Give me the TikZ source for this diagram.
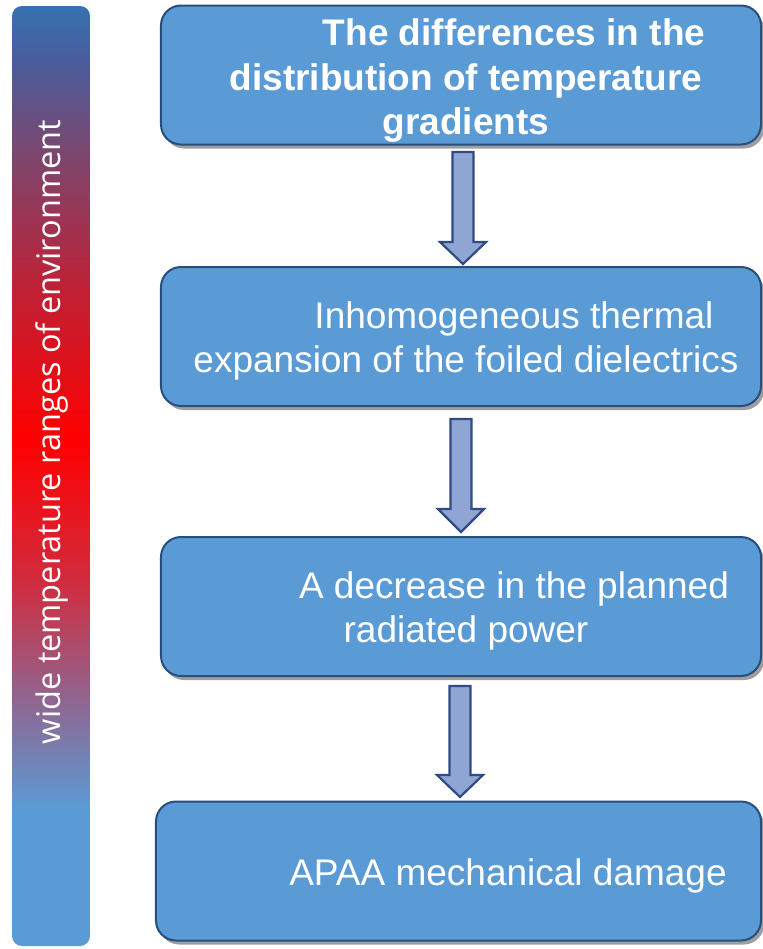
\documentclass[tikz,border=0pt]{standalone}
\usepackage{fontspec}
\setmainfont{Liberation Sans}
\newfontfamily\barfont{Open Sans}
\usetikzlibrary{calc,shadows}
\definecolor{boxfill}{HTML}{5B9BD5}
\definecolor{boxline}{HTML}{264F7E}
\definecolor{arrfill}{HTML}{8FA5D4}
\definecolor{arrline}{HTML}{2F4A85}
\definecolor{shadowgray}{HTML}{9E9E9E}
\definecolor{gA}{HTML}{3572B2}
\definecolor{gB}{HTML}{4A5C9C}
\definecolor{gC}{HTML}{7A4870}
\definecolor{gD}{HTML}{C02035}
\definecolor{gE}{HTML}{FF0000}
\definecolor{gF}{HTML}{D12B3E}
\definecolor{gG}{HTML}{8F6690}
\definecolor{gH}{HTML}{5B9BD5}
\begin{document}
\begin{tikzpicture}[x=1bp,y=-1bp,
  flowbox/.style={draw=boxline, line width=2bp, fill=boxfill, rounded corners=20bp,
    minimum height=139bp, inner sep=0pt,
    drop shadow={shadow xshift=3bp, shadow yshift=-4bp, fill=shadowgray, opacity=1}},
  boxtext/.style={text=white, align=center, inner sep=0pt},
  regfont/.style={font=\fontsize{37bp}{44.5bp}\selectfont},
  boldfont/.style={font=\fontsize{37bp}{44.5bp}\selectfont\bfseries},
  blockarrow/.style={draw=arrline, line width=2.2bp, fill=arrfill, line join=miter}]
\useasboundingbox (0,0) rectangle (763,949);

% gradient bar
\begin{scope}
  \clip[rounded corners=10bp] (12,6) rectangle (90,946);
  \shade[top color=gA, bottom color=gB] (12,5) rectangle (90,61);
  \shade[top color=gB, bottom color=gC] (12,60) rectangle (90,151);
  \shade[top color=gC, bottom color=gD] (12,150) rectangle (90,291);
  \shade[top color=gD, bottom color=gE] (12,290) rectangle (90,441);
  \shade[top color=gE, bottom color=gF] (12,440) rectangle (90,581);
  \shade[top color=gF, bottom color=gG] (12,580) rectangle (90,701);
  \shade[top color=gG, bottom color=gH] (12,700) rectangle (90,809);
  \fill[gH] (12,808) rectangle (90,947);
\end{scope}
\node[rotate=90, text=white, inner sep=0pt, font=\barfont\fontsize{32.5bp}{39bp}\selectfont]
  (bartext) at (52,432) {wide temperature ranges of environment};

% boxes
\node[flowbox, minimum width=600bp] (b1) at (461,75) {};
\node[flowbox, minimum width=600bp] (b2) at (461,336.5) {};
\node[flowbox, minimum width=600bp] (b3) at (461,606.5) {};
\node[flowbox, minimum width=605bp] (b4) at (458.5,871) {};

\node[boxtext, boldfont] (t1) at (466,81) {\hspace*{96bp}The differences in the\\distribution of temperature\\gradients};
\node[boxtext, regfont] (t2) at (466,341) {\hspace*{96bp}Inhomogeneous thermal\\expansion of the foiled dielectrics};
\node[boxtext, regfont] (t3) at (466,611) {\hspace*{96bp}A decrease in the planned\\radiated power};
\node[boxtext, regfont] (t4) at (508,876) {APAA mechanical damage};

% block arrows
\draw[blockarrow] let \p1=(b1.south), \p2=(b2.north) in
  (\x1-8.5bp,\y1-6.5bp) -- (\x1+12.5bp,\y1-6.5bp) -- (\x1+12.5bp,\y2+24bp) -- (\x1+25bp,\y2+24bp)
  -- (\x1+2bp,\y2+2bp) -- (\x1-21bp,\y2+24bp) -- (\x1-8.5bp,\y2+24bp) -- cycle;
\draw[blockarrow] let \p1=(b2.south), \p2=(b3.north) in
  (\x1-10.5bp,\y1-12bp) -- (\x1+10.5bp,\y1-12bp) -- (\x1+10.5bp,\y2+27bp) -- (\x1+23bp,\y2+27bp)
  -- (\x1,\y2+4bp) -- (\x1-23bp,\y2+27bp) -- (\x1-10.5bp,\y2+27bp) -- cycle;
\draw[blockarrow] let \p1=(b3.south), \p2=(b4.north) in
  (\x1-11.5bp,\y1-9bp) -- (\x1+9.5bp,\y1-9bp) -- (\x1+9.5bp,\y2+25.5bp) -- (\x1+22bp,\y2+25.5bp)
  -- (\x1-1bp,\y2+3.5bp) -- (\x1-24bp,\y2+25.5bp) -- (\x1-11.5bp,\y2+25.5bp) -- cycle;
\end{tikzpicture}
\end{document}
